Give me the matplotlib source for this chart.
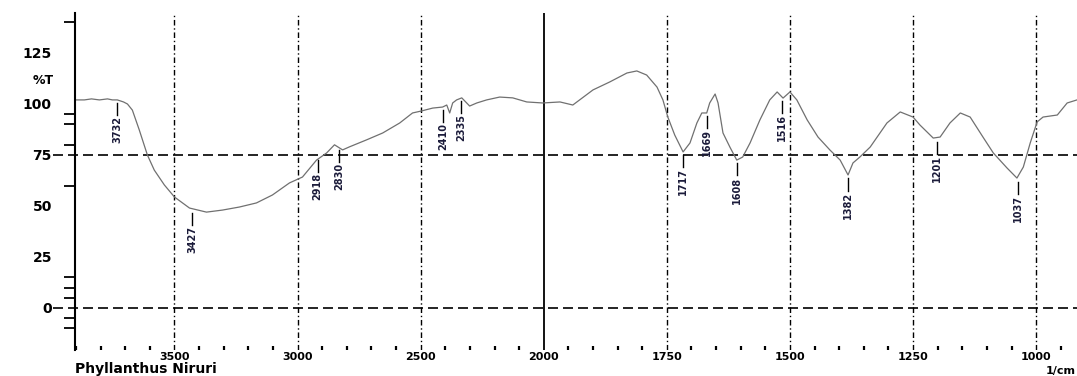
import numpy as np
import matplotlib
matplotlib.use("Agg")
import matplotlib.pyplot as plt

# FTIR spectrum, wavenumber (1/cm) vs %T
wavenumber = [
    3902, 3866, 3837, 3805, 3772, 3752, 3732, 3707, 3691, 3671, 3643, 3610,
    3582, 3541, 3500, 3439, 3370, 3305, 3236, 3167, 3102, 3033, 2980, 2923,
    2882, 2850, 2829, 2817, 2789, 2720, 2654, 2585, 2533, 2496, 2451, 2411,
    2394, 2382, 2370, 2354, 2333, 2313, 2301, 2272, 2232, 2179, 2126, 2069,
    2004, 1967, 1941, 1900, 1866, 1831, 1811, 1791, 1770, 1758, 1748, 1734,
    1717, 1703, 1689, 1679, 1669, 1663, 1652, 1646, 1636, 1622, 1608, 1596,
    1581, 1561, 1541, 1526, 1514, 1500, 1486, 1465, 1443, 1419, 1398, 1382,
    1372, 1358, 1337, 1303, 1276, 1250, 1236, 1209, 1195, 1175, 1154, 1134,
    1108, 1087, 1059, 1039, 1026, 1012, 998, 986, 957, 937, 917,
]
transmittance = [
    102.0, 102.0, 102.5, 102.0, 102.5, 102.0, 102.0, 101.0, 100.0, 97.0, 87.3, 75.0,
    67.6, 60.3, 54.4, 49.0, 47.0, 48.0, 49.5, 51.5, 55.4, 61.3, 64.2, 72.5,
    76.0, 80.0, 78.4, 77.5, 79.0, 82.4, 85.8, 90.7, 95.6, 96.6, 98.0, 98.5,
    99.5, 95.6, 100.5, 102.0, 103.0, 100.5, 99.0, 100.5, 102.0, 103.4, 103.0, 101.0,
    100.5, 101.0, 99.5, 106.9, 110.8, 115.2, 116.2, 114.2, 108.3, 102.0, 93.6, 84.8,
    76.5, 80.9, 90.7, 95.6, 95.6, 100.5, 104.9, 100.5, 85.8, 78.9, 72.5, 74.0,
    80.9, 92.2, 102.0, 105.9, 102.9, 105.9, 102.0, 92.2, 83.8, 77.5, 72.5, 65.2,
    71.1, 74.0, 78.9, 90.7, 96.1, 93.6, 89.7, 83.3, 83.8, 90.7, 95.6, 93.6,
    83.8, 76.0, 68.6, 63.7, 69.1, 80.9, 91.2, 93.6, 94.6, 100.5, 102.0,
]

# labelled peaks
peak_wn = [3732, 3427, 2918, 2830, 2410, 2335, 1717, 1669, 1608, 1516, 1382, 1201, 1037]
peak_t = [102.0, 48.0, 74.0, 79.0, 98.5, 103.0, 76.5, 95.6, 72.5, 103.0, 65.0, 83.0, 63.5]

x_major = [3500, 3000, 2500, 2000, 1750, 1500, 1250, 1000]
y_labels = [0, 25, 50, 75, 100, 125]
y_minor = [140, 95, 90, 80, 75, 60, 15, 10, 5, 0, -5, -10]


def forward(w):
    # instrument style: 4000-2000 at half the expansion of 2000-400
    w = np.asarray(w, dtype=float)
    return np.where(w >= 2000, (w - 2000) / 500.0, (w - 2000) / 250.0)


def inverse(u):
    u = np.asarray(u, dtype=float)
    return np.where(u >= 0, 2000 + 500.0 * u, 2000 + 250.0 * u)


fig = plt.figure(figsize=(10.77, 3.76), dpi=100)
ax = fig.add_axes([0.0701, 0.0691, 0.9299, 0.8963])
ax.set_xscale("function", functions=(forward, inverse))
ax.set_xlim(3902, 917)
ax.set_ylim(-20.6, 144.6)

# reference lines
for w in x_major:
    if w == 2000:
        ax.axvline(w, color="black", lw=1.3)
    else:
        ax.axvline(w, color="black", lw=1.0, ls=(0, (4, 2, 1, 2)))
for t in (75, 0):
    ax.axhline(t, xmin=-0.022, color="black", lw=1.2, ls=(0, (6, 3)), clip_on=False)

ax.plot(wavenumber, transmittance, color="#707070", lw=0.9)

for w, t in zip(peak_wn, peak_t):
    ax.plot([w, w], [t - 1.5, t - 7.5], color="black", lw=1.0)
    ax.text(w, t - 8.0, str(w), rotation=90, ha="center", va="top",
            fontsize=7, fontweight="bold", color="#1b1b3a")

# axes furniture
for side in ("top", "right", "bottom"):
    ax.spines[side].set_visible(False)
ax.spines["left"].set_linewidth(1.5)

ax.set_xticks(x_major)
ax.set_xticklabels([str(w) for w in x_major], fontsize=8, fontweight="bold")
x_minor = [w for w in range(3900, 2000, -100) if w not in x_major]
x_minor += [w for w in range(1950, 900, -50) if w not in x_major]
ax.set_xticks(x_minor, minor=True)
ax.tick_params(axis="x", which="major", length=0, pad=1.5)
ax.tick_params(axis="x", which="minor", length=3, width=1.6, direction="in")

ax.set_yticks(y_labels)
ax.set_yticklabels([str(v) for v in y_labels], fontsize=10, fontweight="bold")
ax.set_yticks(y_minor, minor=True)
ax.tick_params(axis="y", which="major", length=0, pad=17)
ax.tick_params(axis="y", which="minor", length=8, width=1.3)

fig.text(0.030, 0.787, "%T", fontsize=9, fontweight="bold", va="center")
fig.text(0.070, 0.0, "Phyllanthus Niruri", fontsize=10, fontweight="bold", va="bottom")
fig.text(0.999, 0.0, "1/cm", fontsize=8, fontweight="bold", ha="right", va="bottom")

fig.savefig("out.png", dpi=100)
